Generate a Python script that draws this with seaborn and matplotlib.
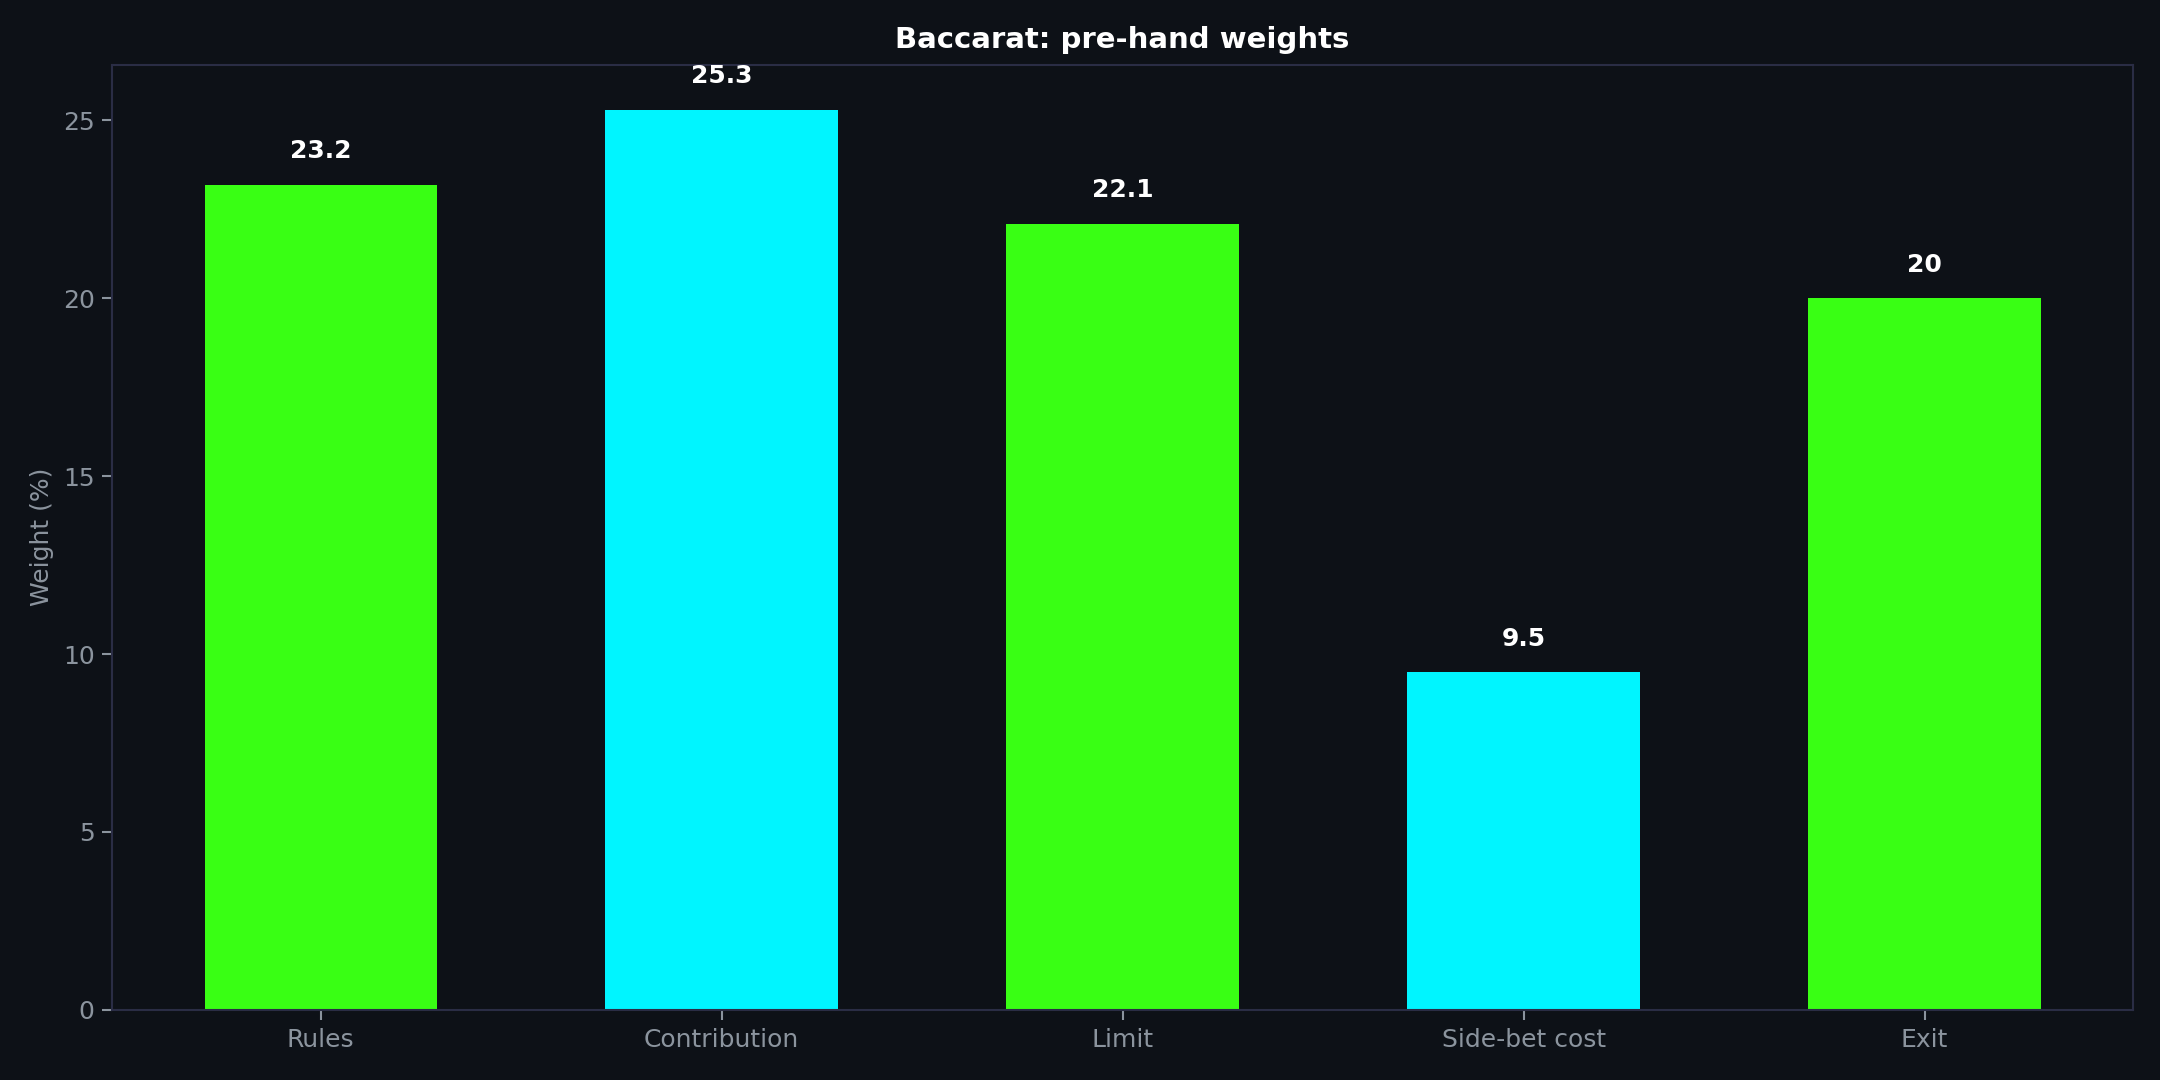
import matplotlib
matplotlib.use("Agg")
import matplotlib.pyplot as plt
import seaborn as sns
import pandas as pd

# dados do gráfico
categories = ["Rules", "Contribution", "Limit", "Side-bet cost", "Exit"]
weights = [23.2, 25.3, 22.1, 9.5, 20]
bar_colors = ["#39FF14", "#00F5FF", "#39FF14", "#00F5FF", "#39FF14"]

BG = "#0D1117"
GRID = "#2A2D45"
TXT = "#8B949E"

sns.set_theme(style="dark")
plt.rcParams['font.family'] = ['DejaVu Sans']

df = pd.DataFrame({"cat": categories, "w": weights})

fig, ax = plt.subplots(figsize=(14.4, 7.2), dpi=150)
fig.patch.set_facecolor(BG)
ax.set_facecolor(BG)

sns.barplot(data=df, x="cat", y="w", hue="cat", palette=bar_colors,
            width=0.58, saturation=1, legend=False, linewidth=0, ax=ax)

ymax = max(weights) * 1.05
for i, v in enumerate(weights):
    ax.text(i, v + 0.6, f"{v:g}", ha="center", va="bottom",
            color="white", fontsize=12, fontweight="bold")

ax.set_xlim(-0.52, 4.52)
ax.set_ylim(0, ymax)
ax.set_title("Baccarat: pre-hand weights", color="white", fontsize=14, fontweight="bold", pad=8)
ax.set_xlabel("")
ax.set_ylabel("Weight (%)", color=TXT, fontsize=12)
ax.tick_params(colors=TXT, labelsize=12, length=5, width=1, bottom=True, left=True)
for s in ax.spines.values():
    s.set_color(GRID)
    s.set_linewidth(1)
ax.grid(False)

plt.subplots_adjust(left=0.052, right=0.9875, top=0.94, bottom=0.065)
plt.savefig("out.png", facecolor=BG)
